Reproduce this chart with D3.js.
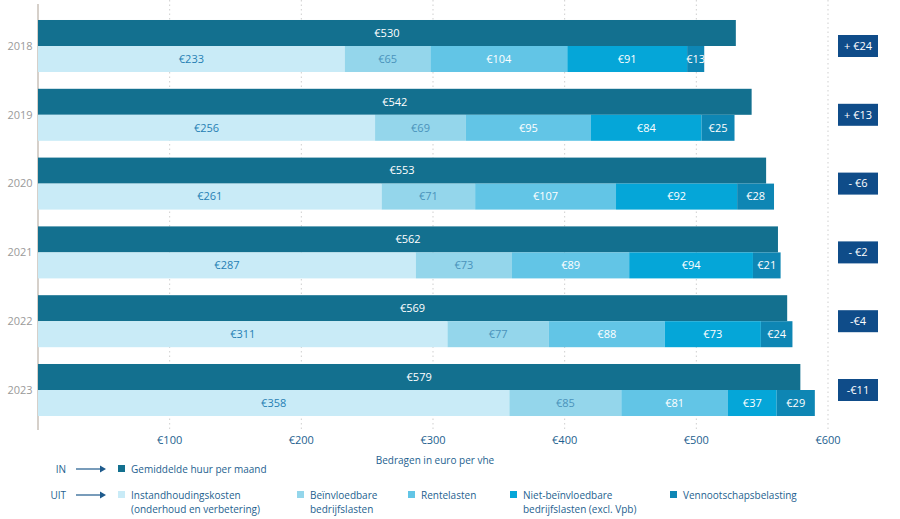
<!DOCTYPE html>
<html><head><meta charset="utf-8">
<script src="https://cdn.jsdelivr.net/npm/d3@7"></script>
<style>
html,body{margin:0;padding:0;background:#fff;}
svg{display:block;font-family:"Open Sans","Noto Sans",sans-serif;}
</style></head>
<body>
<svg id="chart" width="900" height="519"></svg>
<script>
const years = ["2018","2019","2020","2021","2022","2023"];
const huur = [530,542,553,562,569,579];
const instandhouding = [233,256,261,287,311,358];
const beinvloedbaar = [65,69,71,73,77,85];
const rentelasten = [104,95,107,89,88,81];
const nietBeinvloedbaar = [91,84,92,94,73,37];
const vpb = [13,25,28,21,24,29];
const verschil = ["+ €24","+ €13","- €6","- €2","-€4","-€11"];
const ticks = [100,200,300,400,500,600];
const uitSeries = [instandhouding, beinvloedbaar, rentelasten, nietBeinvloedbaar, vpb];
const uitNames = [["Instandhoudingskosten","(onderhoud en verbetering)"],["Beïnvloedbare","bedrijfslasten"],["Rentelasten"],["Niet-beïnvloedbare","bedrijfslasten (excl. Vpb)"],["Vennootschapsbelasting"]];
const inName = "Gemiddelde huur per maand";

const inColor = "#13708f";
const uitColors = ["#c9ebf7","#94d6eb","#62c5e6","#05a6d8","#0e86b4"];
const uitText = ["#2680b4","#4a93bb","#ffffff","#ffffff","#ffffff"];
const boxColor = "#0f4c89";
const tickColor = "#1e5f8f";

const svg = d3.select("#chart");
const x = d3.scaleLinear().domain([0,600]).range([38,828]);
const y = d3.scaleBand().domain(years).range([11.6,424.4]).paddingInner(0.244).paddingOuter(0.122);
const sub = d3.scaleBand().domain(["in","uit"]).range([0,y.bandwidth()]);

// gridlines
svg.append("g").selectAll("line").data(ticks).join("line")
  .attr("x1",d=>x(d)).attr("x2",d=>x(d)).attr("y1",0).attr("y2",430)
  .attr("stroke","#cfcfcf").attr("stroke-width",1).attr("stroke-dasharray","1.5,3");

// axis line
svg.append("line").attr("x1",x(0)).attr("x2",x(0)).attr("y1",4).attr("y2",430)
  .attr("stroke","#c9c0b8").attr("stroke-width",1.5);

const rows = svg.append("g").selectAll("g").data(years).join("g")
  .attr("transform",d=>`translate(0,${y(d)})`);

// IN bars
rows.append("rect").attr("x",x(0)).attr("y",sub("in"))
  .attr("width",(d,i)=>x(huur[i])-x(0)).attr("height",sub.bandwidth()).attr("fill",inColor);
rows.append("text").attr("x",(d,i)=>(x(0)+x(huur[i]))/2).attr("y",sub("in")+sub.bandwidth()/2)
  .attr("dy","0.35em").attr("text-anchor","middle").attr("fill","#fff").attr("font-size",11)
  .text((d,i)=>"€"+huur[i]);

// UIT stacked
rows.each(function(d,i){
  const g = d3.select(this);
  let acc = 0;
  uitSeries.forEach((s,k)=>{
    const v = s[i];
    const x0 = x(acc), x1 = x(acc+v);
    g.append("rect").attr("x",x0).attr("y",sub("uit")).attr("width",x1-x0).attr("height",sub.bandwidth())
      .attr("fill",uitColors[k]);
    g.append("text").attr("x",(x0+x1)/2).attr("y",sub("uit")+sub.bandwidth()/2).attr("dy","0.35em")
      .attr("text-anchor","middle").attr("fill",uitText[k]).attr("font-size",11).text("€"+v);
    acc += v;
  });
  // year label
  g.append("text").attr("x",20).attr("y",y.bandwidth()/2).attr("dy","0.35em").attr("text-anchor","middle")
    .attr("fill","#9a9a9a").attr("font-size",11).text(d);
  // change box
  const bx = 838, bw = 40, bh = 22;
  g.append("rect").attr("x",bx).attr("y",y.bandwidth()/2-bh/2).attr("width",bw).attr("height",bh).attr("fill",boxColor);
  g.append("text").attr("x",bx+bw/2).attr("y",y.bandwidth()/2).attr("dy","0.35em").attr("text-anchor","middle")
    .attr("fill","#fff").attr("font-size",11).text(verschil[i]);
});

// tick labels
svg.append("g").selectAll("text").data(ticks).join("text")
  .attr("x",d=>x(d)).attr("y",440).attr("dy","0.35em").attr("text-anchor","middle")
  .attr("fill",tickColor).attr("font-size",11).text(d=>"€"+d);
svg.append("text").attr("x",435).attr("y",460).attr("dy","0.35em").attr("text-anchor","middle")
  .attr("fill",tickColor).attr("font-size",10).text("Bedragen in euro per vhe");

// legend
const lg = svg.append("g");
function arrow(yy){
  lg.append("line").attr("x1",76).attr("x2",100).attr("y1",yy).attr("y2",yy).attr("stroke","#1e5a8c").attr("stroke-width",1.2);
  lg.append("path").attr("d",`M100,${yy-3.5}L106,${yy}L100,${yy+3.5}Z`).attr("fill","#1e5a8c");
}
lg.append("text").attr("x",66).attr("y",469).attr("dy","0.35em").attr("text-anchor","end").attr("fill",tickColor).attr("font-size",10).text("IN");
arrow(469);
lg.append("rect").attr("x",118).attr("y",465).attr("width",7).attr("height",7).attr("fill",inColor);
lg.append("text").attr("x",131).attr("y",469).attr("dy","0.35em").attr("fill",tickColor).attr("font-size",10).text(inName);

lg.append("text").attr("x",66).attr("y",495).attr("dy","0.35em").attr("text-anchor","end").attr("fill",tickColor).attr("font-size",10).text("UIT");
arrow(495);
const legX = [118,297,408,510,670];
uitNames.forEach((n,k)=>{
  lg.append("rect").attr("x",legX[k]).attr("y",491).attr("width",7).attr("height",7).attr("fill",uitColors[k]);
  n.forEach((line,j)=>{
    lg.append("text").attr("x",legX[k]+13).attr("y",495+j*14).attr("dy","0.35em").attr("fill",tickColor).attr("font-size",10).text(line);
  });
});
</script>
</body></html>
